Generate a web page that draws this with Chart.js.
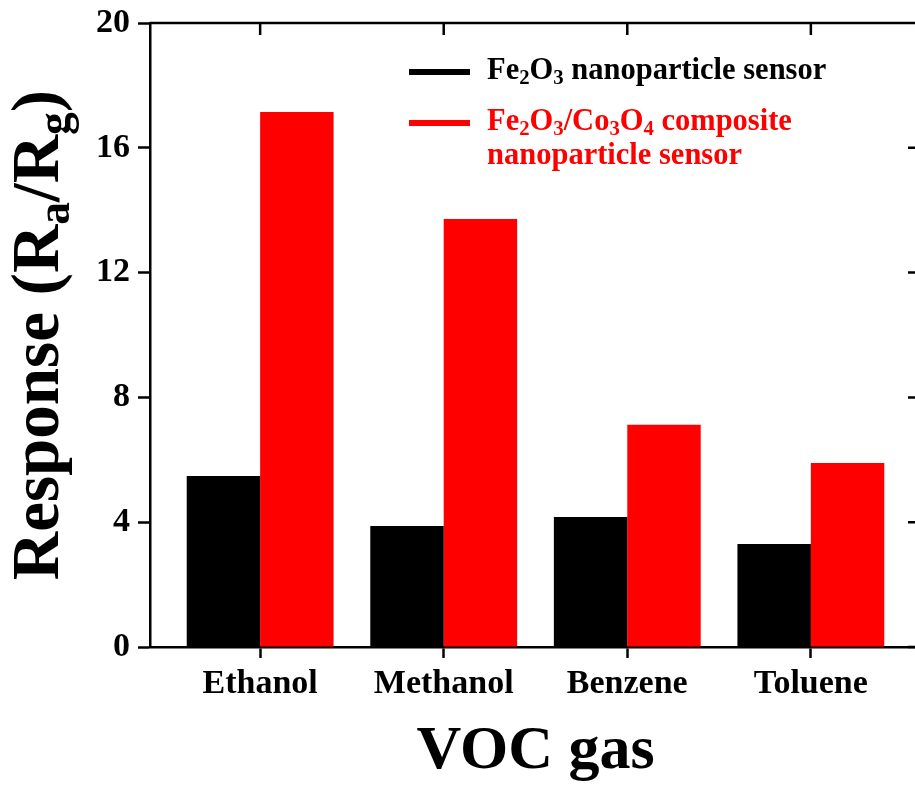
<!DOCTYPE html>
<html>
<head>
<meta charset="utf-8">
<script src="https://cdn.jsdelivr.net/npm/chart.js@4"></script>
<style>
  html, body { margin: 0; padding: 0; background: #fff; overflow: hidden; }
</style>
</head>
<body>
<canvas id="vocChart" width="925" height="787"></canvas>
<script>
// Gas response of the two sensors
const categories = ['Ethanol', 'Methanol', 'Benzene', 'Toluene'];
const fe2o3Response = [5.48, 3.88, 4.17, 3.30];
const compositeResponse = [17.15, 13.72, 7.12, 5.90];
const yTicks = [0, 4, 8, 12, 16, 20];
// "_" marks the next character as a subscript
const seriesLabels = [
    ['Fe_2O_3 nanoparticle sensor'],
    ['Fe_2O_3/Co_3O_4 composite', 'nanoparticle sensor']
];
const seriesColors = ['#000000', '#ff0000'];
const xTitle = 'VOC gas';
const yTitle = 'Response (R_a/R_g)';

const FONT = '"Liberation Serif", "Times New Roman", serif';
const SUB = 0.68;

// Split marked-up text into normal / subscript runs
function parseRuns(text) {
    const runs = [];
    for (let i = 0; i < text.length; i++) {
        let sub = false;
        let ch = text[i];
        if (ch === '_') { sub = true; ch = text[++i]; }
        const last = runs[runs.length - 1];
        if (last && last.sub === sub) last.text += ch;
        else runs.push({ text: ch, sub: sub });
    }
    return runs;
}

function richWidth(ctx, text, size) {
    let w = 0;
    parseRuns(text).forEach(r => {
        ctx.font = 'bold ' + (r.sub ? size * SUB : size) + 'px ' + FONT;
        w += ctx.measureText(r.text).width;
    });
    return w;
}

function drawRich(ctx, text, x, y, size) {
    let cx = x;
    ctx.textAlign = 'left';
    ctx.textBaseline = 'alphabetic';
    parseRuns(text).forEach(r => {
        ctx.font = 'bold ' + (r.sub ? size * SUB : size) + 'px ' + FONT;
        ctx.fillText(r.text, cx, r.sub ? y + size * 0.16 : y);
        cx += ctx.measureText(r.text).width;
    });
}

// Frame, inner ticks, legend and axis titles
const decorPlugin = {
    id: 'decor',
    afterDraw(chart) {
        const ctx = chart.ctx;
        const area = chart.chartArea;
        const xs = chart.scales.x;
        const ys = chart.scales.y;
        ctx.save();
        ctx.strokeStyle = '#000';
        ctx.lineWidth = 2.5;
        ctx.beginPath();
        ctx.moveTo(area.left, area.top);
        ctx.lineTo(area.right, area.top);
        ctx.moveTo(area.right, area.top);
        ctx.lineTo(area.right, area.bottom);
        xs.ticks.forEach(t => {
            const px = xs.getPixelForValue(t.value);
            ctx.moveTo(px, area.top);
            ctx.lineTo(px, area.top + 12);
        });
        ys.ticks.forEach(t => {
            const py = ys.getPixelForValue(t.value);
            ctx.moveTo(area.right - 13, py);
            ctx.lineTo(area.right, py);
        });
        ctx.stroke();

        // legend
        const legendX = 409;
        const rowY = [72, 123];
        const lineGap = 34;
        seriesLabels.forEach((lines, i) => {
            ctx.fillStyle = seriesColors[i];
            ctx.fillRect(legendX, rowY[i] - 3, 61, 6);
            lines.forEach((line, j) => {
                drawRich(ctx, line, 487, rowY[i] + 7 + j * lineGap, 30.5);
            });
        });

        // axis titles
        ctx.fillStyle = '#000';
        ctx.font = 'bold 62px ' + FONT;
        ctx.textAlign = 'center';
        ctx.textBaseline = 'alphabetic';
        ctx.fillText(xTitle, (area.left + area.right) / 2, 768);

        const ySize = 67;
        const w = richWidth(ctx, yTitle, ySize);
        ctx.translate(58, (area.top + area.bottom) / 2);
        ctx.rotate(-Math.PI / 2);
        drawRich(ctx, yTitle, -w / 2, 0, ySize);
        ctx.restore();
    }
};

const ctx = document.getElementById('vocChart').getContext('2d');
new Chart(ctx, {
    type: 'bar',
    data: {
        datasets: [
            {
                label: 'Fe2O3 nanoparticle sensor',
                data: fe2o3Response.map((v, i) => ({ x: i + 1, y: v })),
                backgroundColor: seriesColors[0],
                borderWidth: 0
            },
            {
                label: 'Fe2O3/Co3O4 composite nanoparticle sensor',
                data: compositeResponse.map((v, i) => ({ x: i + 1, y: v })),
                backgroundColor: seriesColors[1],
                borderWidth: 0
            }
        ]
    },
    options: {
        responsive: false,
        animation: false,
        categoryPercentage: 0.8,
        barPercentage: 1.0,
        layout: { padding: { left: 0, top: 23, right: 4, bottom: 0 } },
        plugins: {
            legend: { display: false },
            tooltip: { enabled: false }
        },
        scales: {
            x: {
                type: 'linear',
                min: 0.4,
                max: 4.6,
                offset: false,
                afterBuildTicks: s => { s.ticks = categories.map((c, i) => ({ value: i + 1 })); },
                afterFit: s => { s.height = 140; s.paddingLeft = 0; s.paddingRight = 0; },
                grid: {
                    drawOnChartArea: false,
                    drawTicks: true,
                    tickLength: 11,
                    tickWidth: 2.5,
                    tickColor: '#000',
                    offset: false
                },
                border: { display: true, color: '#000', width: 2.5 },
                ticks: {
                    callback: v => categories[v - 1],
                    font: { family: FONT, size: 34, weight: 'bold' },
                    color: '#000',
                    padding: 6,
                    maxRotation: 0,
                    autoSkip: false
                }
            },
            y: {
                min: 0,
                max: 20,
                afterBuildTicks: s => { s.ticks = yTicks.map(v => ({ value: v })); },
                afterFit: s => { s.width = 150; s.paddingTop = 0; s.paddingBottom = 0; },
                grid: {
                    drawOnChartArea: false,
                    drawTicks: true,
                    tickLength: 12,
                    tickWidth: 2.5,
                    tickColor: '#000'
                },
                border: { display: true, color: '#000', width: 2.5 },
                ticks: {
                    font: { family: FONT, size: 34, weight: 'bold' },
                    color: '#000',
                    padding: 8
                }
            }
        }
    },
    plugins: [decorPlugin]
});
</script>
</body>
</html>
